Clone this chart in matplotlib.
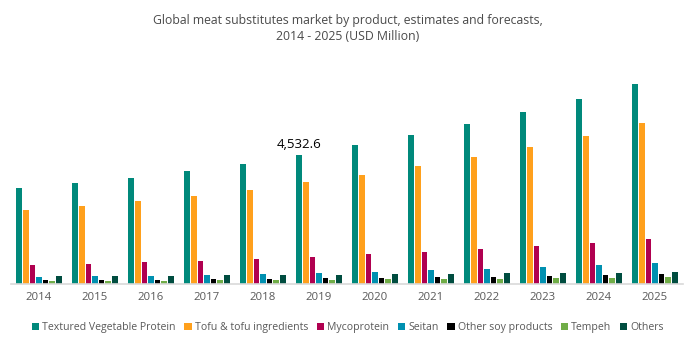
import matplotlib
matplotlib.use("Agg")
import matplotlib.pyplot as plt
import numpy as np

years = ["2014", "2015", "2016", "2017", "2018", "2019",
         "2020", "2021", "2022", "2023", "2024", "2025"]

series_names = ["Textured Vegetable Protein", "Tofu & tofu ingredients", "Mycoprotein",
                "Seitan", "Other soy products", "Tempeh", "Others"]

tvp = [3373, 3549, 3725, 3971, 4217, 4532.6, 4884, 5236, 5622, 6044, 6500, 7028]
tofu = [2600, 2741, 2917, 3092, 3303, 3584, 3830, 4146, 4463, 4814, 5200, 5657]
mycoprotein = [668, 703, 773, 808, 878, 949, 1054, 1124, 1230, 1335, 1441, 1581]
seitan = [246, 281, 281, 316, 351, 387, 422, 492, 527, 597, 668, 738]
other_soy = [141, 141, 150, 176, 176, 211, 211, 246, 246, 281, 316, 351]
tempeh = [105, 105, 110, 123, 141, 141, 158, 176, 176, 193, 211, 246]
others = [281, 281, 281, 316, 316, 316, 351, 351, 387, 387, 387, 422]

series_values = [tvp, tofu, mycoprotein, seitan, other_soy, tempeh, others]
colors = ["#00897B", "#FFA01C", "#B00050", "#0090B0", "#000000", "#70AD47", "#004D40"]

fig = plt.figure(figsize=(6.96, 3.44), dpi=100)
ax = fig.add_axes([11 / 696, 60 / 344, 672 / 696, 228 / 344])

x = np.arange(len(years))
step = 0.118
width = 0.098
n = len(series_values)
for i, (name, vals, c) in enumerate(zip(series_names, series_values, colors)):
    offs = (i - (n - 1) / 2) * step
    ax.bar(x + offs, vals, width=width, color=c, label=name)

# value annotation on the 2019 TVP bar
idx = years.index("2019")
ax.text(x[idx] - 3 * step, tvp[idx] + 120, f"{tvp[idx]:,.1f}",
        ha="center", va="bottom", fontsize=9.5, color="#000000", family="Open Sans")

ax.set_xlim(-0.5, 11.5)
ax.set_ylim(0, 8000)
ax.set_xticks(x)
ax.set_xticklabels(years, fontsize=8.2, color="#595959", family="Open Sans")
ax.tick_params(axis="x", length=0, pad=6)
ax.set_yticks([])
for s in ["top", "right", "left"]:
    ax.spines[s].set_visible(False)
ax.spines["bottom"].set_color("#D9D9D9")
ax.spines["bottom"].set_linewidth(1.2)

fig.text(0.5, 0.958, "Global meat substitutes market by product, estimates and forecasts,\n2014 - 2025 (USD Million)",
         ha="center", va="top", fontsize=8.8, color="#4A4A4A", family="Open Sans", linespacing=1.3)

leg = fig.legend(loc="center", bbox_to_anchor=(0.5, 0.048), ncol=7, frameon=False,
                 handlelength=0.7, handleheight=0.7, handletextpad=0.3,
                 columnspacing=0.8, prop={"family": "Open Sans", "size": 7.6})
for t in leg.get_texts():
    t.set_color("#595959")

fig.savefig("out.png", dpi=100)
